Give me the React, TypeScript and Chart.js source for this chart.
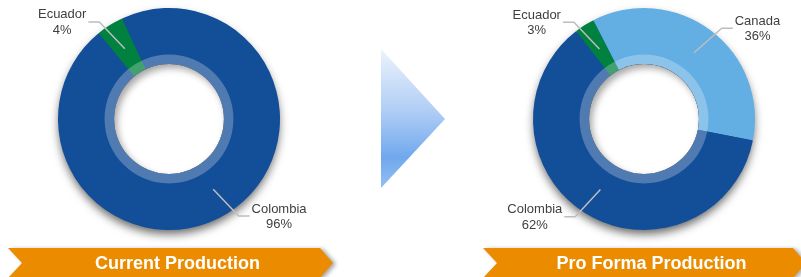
import React, { useEffect, useRef } from 'react';
import { Chart, registerables } from 'chart.js';

Chart.register(...registerables);

const leftCategories = ['Ecuador', 'Colombia'];
const leftValues = [4, 96];
const rightCategories = ['Ecuador', 'Canada', 'Colombia'];
const rightValues = [3, 36, 62];
const leftTitle = 'Current Production';
const rightTitle = 'Pro Forma Production';

const COLORS: Record<string, string> = {
  Ecuador: '#008140',
  Colombia: '#134E98',
  Canada: '#63AFE3',
};

const FONT = '"Liberation Sans", Arial, sans-serif';

type Deco = {
  banner: { notch: number; left: number; point: number; title: string };
  arrow: boolean;
};

function makePlugin(cfg: Deco) {
  return {
    id: 'deco',
    beforeDatasetsDraw(chart: any) {
      const a = chart.getDatasetMeta(0).data[0];
      const ctx = chart.ctx;
      ctx.save();
      ctx.shadowColor = 'rgba(0,0,0,0.6)';
      ctx.shadowBlur = 10;
      ctx.shadowOffsetY = 5;
      ctx.shadowOffsetX = 0;
      ctx.fillStyle = COLORS.Colombia;
      ctx.beginPath();
      ctx.arc(a.x, a.y, a.outerRadius - 1, 0, Math.PI * 2);
      ctx.fill();
      ctx.restore();
    },
    afterDatasetsDraw(chart: any) {
      const meta = chart.getDatasetMeta(0);
      const a = meta.data[0];
      const ctx = chart.ctx;
      const cx = a.x, cy = a.y, rin = a.innerRadius;
      // white hole
      ctx.save();
      ctx.fillStyle = '#ffffff';
      ctx.beginPath();
      ctx.arc(cx, cy, rin, 0, Math.PI * 2);
      ctx.fill();
      // inner shadow
      ctx.beginPath();
      ctx.arc(cx, cy, rin, 0, Math.PI * 2);
      ctx.clip();
      ctx.beginPath();
      ctx.rect(cx - 300, cy - 300, 600, 600);
      ctx.arc(cx, cy, rin, 0, Math.PI * 2);
      ctx.shadowColor = 'rgba(0,0,0,0.35)';
      ctx.shadowBlur = 7;
      ctx.shadowOffsetX = 3;
      ctx.shadowOffsetY = 4;
      ctx.fillStyle = '#000';
      ctx.fill('evenodd');
      ctx.restore();
      // light ring
      ctx.save();
      ctx.fillStyle = 'rgba(255,255,255,0.26)';
      ctx.beginPath();
      ctx.arc(cx, cy, rin + 9.5, 0, Math.PI * 2);
      ctx.arc(cx, cy, rin, Math.PI * 2, 0, true);
      ctx.fill('evenodd');
      ctx.restore();

      // labels with leader lines
      const labels = chart.data.labels;
      const values = chart.data.datasets[0].data;
      ctx.save();
      ctx.font = '13px ' + FONT;
      meta.data.forEach((arc: any, i: number) => {
        const mid = (arc.startAngle + arc.endAngle) / 2;
        const rs = (arc.innerRadius + arc.outerRadius) / 2;
        const sx = cx + rs * Math.cos(mid);
        const sy = cy + rs * Math.sin(mid);
        let dx = Math.cos(mid) * 1.5, dy = Math.sin(mid);
        const n = Math.hypot(dx, dy);
        dx = (dx / n) * 37; dy = (dy / n) * 37;
        const ex = sx + dx, ey = sy + dy;
        const dir = Math.cos(mid) >= 0 ? 1 : -1;
        const hx = ex + dir * 11;
        ctx.strokeStyle = '#BDBDBD';
        ctx.lineWidth = 1.5;
        ctx.beginPath();
        ctx.moveTo(sx, sy);
        ctx.lineTo(ex, ey);
        ctx.lineTo(hx, ey);
        ctx.stroke();
        const l1 = String(labels[i]);
        const l2 = values[i] + '%';
        const w = Math.max(ctx.measureText(l1).width, ctx.measureText(l2).width);
        const bx = dir > 0 ? hx + 2 + w / 2 : hx - 2 - w / 2;
        ctx.fillStyle = '#404040';
        ctx.textAlign = 'center';
        ctx.textBaseline = 'middle';
        ctx.fillText(l1, bx, ey - 7);
        ctx.fillText(l2, bx, ey + 8.5);
      });
      ctx.restore();
    },
    afterDraw(chart: any) {
      const ctx = chart.ctx;
      const b = cfg.banner;
      const top = 248, bot = 278, midY = 263, tip = 13;
      ctx.save();
      ctx.shadowColor = 'rgba(0,0,0,0.35)';
      ctx.shadowBlur = 4;
      ctx.shadowOffsetX = 3;
      ctx.shadowOffsetY = 1;
      ctx.fillStyle = '#EB8C00';
      ctx.beginPath();
      ctx.moveTo(b.left, top);
      ctx.lineTo(b.point - tip, top);
      ctx.lineTo(b.point, midY);
      ctx.lineTo(b.point - tip, bot);
      ctx.lineTo(b.left, bot);
      ctx.lineTo(b.notch, midY);
      ctx.closePath();
      ctx.fill();
      ctx.restore();
      ctx.save();
      ctx.fillStyle = '#ffffff';
      ctx.font = 'bold 18px ' + FONT;
      ctx.textAlign = 'center';
      ctx.textBaseline = 'middle';
      ctx.fillText(b.title, (b.notch + b.point) / 2, midY + 1);
      ctx.restore();

      if (cfg.arrow) {
        ctx.save();
        const g = ctx.createLinearGradient(0, 49, 0, 188);
        g.addColorStop(0, '#EDF3FC');
        g.addColorStop(0.45, '#AFCDF5');
        g.addColorStop(0.78, '#70A8EE');
        g.addColorStop(1, '#94BEF2');
        ctx.fillStyle = g;
        ctx.beginPath();
        ctx.moveTo(381, 49);
        ctx.lineTo(445, 119);
        ctx.lineTo(381, 188);
        ctx.closePath();
        ctx.fill();
        ctx.restore();
      }
    },
  };
}

function Donut(props: {
  categories: string[];
  values: number[];
  rotation: number;
  width: number;
  left: number;
  padding: { left: number; right: number; top: number; bottom: number };
  deco: Deco;
}) {
  const ref = useRef<HTMLCanvasElement>(null);
  useEffect(() => {
    const chart = new Chart(ref.current!, {
      type: 'doughnut',
      data: {
        labels: props.categories,
        datasets: [
          {
            data: props.values,
            backgroundColor: props.categories.map((c) => COLORS[c]),
            borderWidth: 0,
          },
        ],
      },
      options: {
        responsive: false,
        maintainAspectRatio: false,
        animation: false,
        rotation: props.rotation,
        cutout: '49.5%',
        layout: { padding: props.padding },
        plugins: { legend: { display: false }, tooltip: { enabled: false } },
        events: [],
      },
      plugins: [makePlugin(props.deco)],
    } as any);
    return () => chart.destroy();
  }, []);
  return (
    <canvas
      ref={ref}
      width={props.width}
      height={277}
      style={{ position: 'absolute', left: props.left, top: 0, width: props.width, height: 277 }}
    />
  );
}

export default function App() {
  return (
    <div style={{ position: 'absolute', left: 0, top: 0, width: 801, height: 277, background: '#fff', overflow: 'hidden' }}>
      <Donut
        categories={leftCategories}
        values={leftValues}
        rotation={-39.4}
        width={470}
        left={0}
        padding={{ left: 58, right: 190, top: 8, bottom: 47 }}
        deco={{ banner: { notch: 22, left: 8, point: 333, title: leftTitle }, arrow: true }}
      />
      <Donut
        categories={rightCategories}
        values={rightValues}
        rotation={-37.8}
        width={331}
        left={470}
        padding={{ left: 63, right: 46, top: 8, bottom: 47 }}
        deco={{ banner: { notch: 27, left: 13, point: 336, title: rightTitle }, arrow: false }}
      />
    </div>
  );
}
